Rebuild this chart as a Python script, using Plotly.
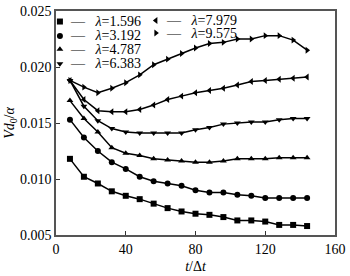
import plotly.graph_objects as go

t_steps = [8, 16, 24, 32, 40, 48, 56, 64, 72, 80, 88, 96, 104, 112, 120, 128, 136, 144]

lam_1596 = [0.0118, 0.0102, 0.0096, 0.0089, 0.0085, 0.0082, 0.0078, 0.0074, 0.0071,
            0.0069, 0.0068, 0.0066, 0.0063, 0.0063, 0.0062, 0.0059, 0.0059, 0.0058]
lam_3192 = [0.0153, 0.0137, 0.0125, 0.0115, 0.0109, 0.0102, 0.0098, 0.0096, 0.0094,
            0.0090, 0.0088, 0.0088, 0.0086, 0.0085, 0.0083, 0.0083, 0.0083, 0.0083]
lam_4787 = [0.0170, 0.0154, 0.0142, 0.0128, 0.0123, 0.0121, 0.0118, 0.0117, 0.0116,
            0.0115, 0.0115, 0.0116, 0.0118, 0.0118, 0.0118, 0.0119, 0.0119, 0.0119]
lam_6383 = [0.0188, 0.0165, 0.0152, 0.0145, 0.0142, 0.0141, 0.0141, 0.0141, 0.0141,
            0.0144, 0.0146, 0.0149, 0.0150, 0.0151, 0.0151, 0.0153, 0.0154, 0.0154]
lam_7979 = [0.0188, 0.0171, 0.0161, 0.0160, 0.0160, 0.0162, 0.0166, 0.0171, 0.0174,
            0.0177, 0.0179, 0.0181, 0.0184, 0.0187, 0.0188, 0.0189, 0.0190, 0.0191]
lam_9575 = [0.0188, 0.0182, 0.0177, 0.0181, 0.0186, 0.0193, 0.0202, 0.0207, 0.0212,
            0.0217, 0.0221, 0.0222, 0.0225, 0.0225, 0.0228, 0.0228, 0.0224, 0.0215]

series_labels = ["1.596", "3.192", "4.787", "6.383", "7.979", "9.575"]
series_values = [lam_1596, lam_3192, lam_4787, lam_6383, lam_7979, lam_9575]
symbols = ["square", "circle", "triangle-up", "triangle-down", "triangle-left", "triangle-right"]

x_ticks = [0, 40, 80, 120, 160]
y_ticks = [0.005, 0.010, 0.015, 0.020, 0.025]

FONT = "Liberation Serif"

# plot area in canvas pixels (layout)
W, H = 350, 276
L, R, T, B = 56, 9, 4, 38
# legend key layout (canvas pixels): two columns
legend_pos = [(60, 15), (60, 30), (60, 44), (60, 59), (158, 14), (158, 27)]

fig = go.Figure()
for lab, vals, sym in zip(series_labels, series_values, symbols):
    fig.add_trace(go.Scatter(
        x=t_steps, y=vals, mode="lines+markers",
        name=f"<i>λ</i>={lab}", showlegend=False,
        line=dict(color="black", width=1.5),
        marker=dict(symbol=sym, size=6, color="black"),
    ))

# custom legend drawn on an overlay axis measured in canvas pixels
annotations = []
for (px, py), lab, sym in zip(legend_pos, series_labels, symbols):
    fig.add_trace(go.Scatter(
        x=[px], y=[py], mode="markers", xaxis="x2", yaxis="y2",
        marker=dict(symbol=sym, size=6, color="black"),
        showlegend=False, hoverinfo="skip",
    ))
    annotations.append(dict(
        x=px + 8, y=py, xref="x2", yref="y2", xanchor="left", yanchor="middle",
        text="—\u00a0\u00a0\u00a0<i>λ</i>=" + lab, showarrow=False,
        font=dict(family=FONT, size=14, color="black"),
    ))

fig.update_layout(
    width=W, height=H,
    margin=dict(l=L, r=R, t=T, b=B),
    paper_bgcolor="white", plot_bgcolor="white",
    font=dict(family=FONT, size=14, color="black"),
    showlegend=False,
    annotations=annotations,
    xaxis2=dict(overlaying="x", range=[L, W - R], visible=False, domain=[0, 1], anchor="y2"),
    yaxis2=dict(overlaying="y", range=[H - B, T], visible=False, domain=[0, 1], anchor="x2"),
)
fig.update_xaxes(
    selector=dict(overlaying=None),
)
fig.update_layout(xaxis=dict(
    range=[0, 160], tickvals=x_ticks, ticktext=[str(v) for v in x_ticks],
    ticks="inside", ticklen=4, tickcolor="#333", ticklabeloverflow="allow",
    showline=True, linecolor="#555", linewidth=1.5, mirror=True,
    showgrid=False, zeroline=False,
    title=dict(text="<i>t</i>/Δ<i>t</i>", font=dict(family=FONT, size=14), standoff=6),
))
fig.update_layout(yaxis=dict(
    range=[0.005, 0.025], tickvals=y_ticks, ticktext=[f"{v:.3f}" for v in y_ticks],
    ticks="inside", ticklen=4, tickcolor="#333", ticklabeloverflow="allow",
    showline=True, linecolor="#555", linewidth=1.5, mirror=True,
    showgrid=False, zeroline=False,
    title=dict(text="<i>Vd</i><sub>0</sub>/<i>α</i>", font=dict(family=FONT, size=14), standoff=2),
))

fig.write_html("out.html")
